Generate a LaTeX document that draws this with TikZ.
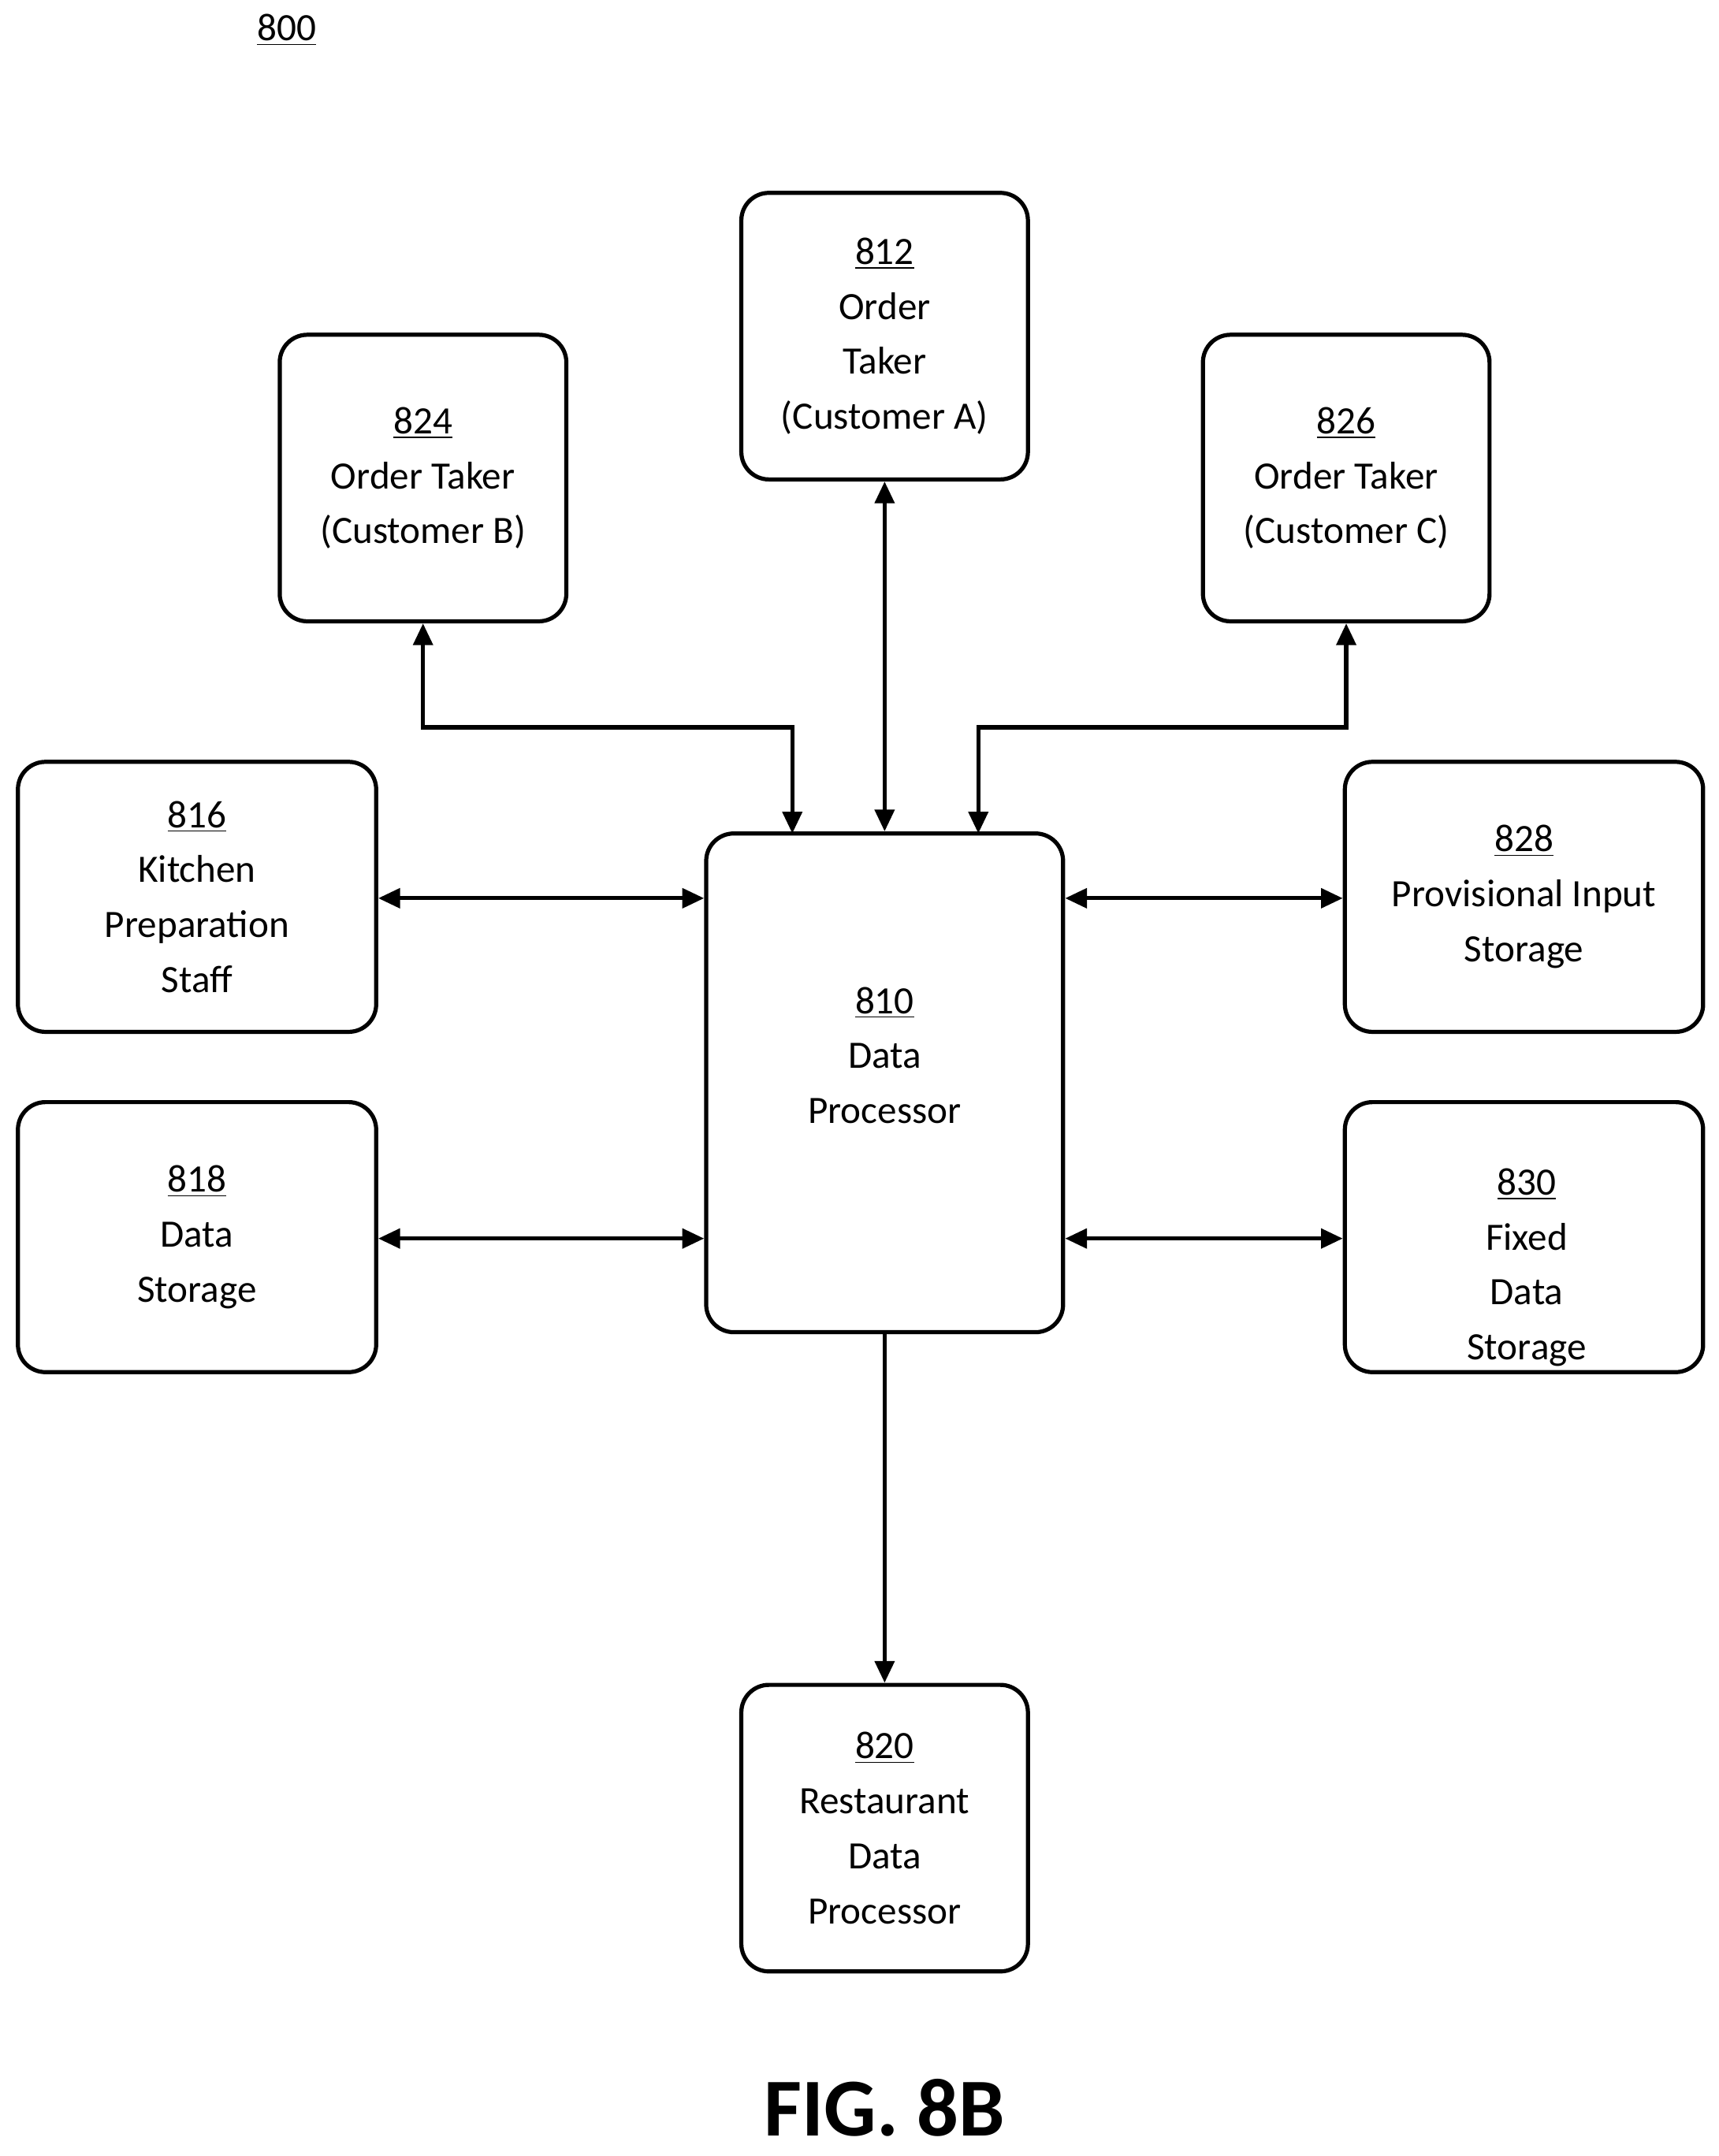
\documentclass[tikz,border=0pt]{standalone}
\usepackage{fontspec}
\setmainfont{Carlito}
\usetikzlibrary{arrows.meta}
\begin{document}
\begin{tikzpicture}[x=0.02cm,y=-0.02cm,
  box/.style={draw,line width=1.7pt,rounded corners=0.4cm,inner sep=0pt,align=center,font=\fontsize{16}{22.7}\selectfont},
  txt/.style={align=center,font=\fontsize{16}{22.7}\selectfont},
  con/.style={line width=1.7pt,{Triangle[length=9pt,width=8pt]}-{Triangle[length=9pt,width=8pt]}},
  one/.style={line width=1.7pt,-{Triangle[length=9pt,width=8pt]}}]
\useasboundingbox (0,0) rectangle (1247,1565);
\node[txt] (n800) at (208,22) {\underline{800}};
\node[box,minimum width=208*0.02cm,minimum height=208*0.02cm] (b812) at (642,244) {\underline{812}\\Order\\Taker\\(Customer A)};
\node[box,minimum width=208*0.02cm,minimum height=208*0.02cm] (b824) at (307,347) {\underline{824}\\Order Taker\\(Customer B)};
\node[box,minimum width=208*0.02cm,minimum height=208*0.02cm] (b826) at (977,347) {\underline{826}\\Order Taker\\(Customer C)};
\node[box,minimum width=260*0.02cm,minimum height=196*0.02cm] (b816) at (143,651) {\underline{816}\\Kitchen\\Preparation\\Staff};
\node[box,minimum width=260*0.02cm,minimum height=196*0.02cm] (b818) at (143,898) {\underline{818}\\Data\\Storage};
\node[box,minimum width=260*0.02cm,minimum height=196*0.02cm] (b828) at (1106,651) {\underline{828}\\Provisional Input\\Storage};
\node[box,minimum width=260*0.02cm,minimum height=196*0.02cm] (b830) at (1106,898) {};
\node[txt] (t830) at (1108,920) {\underline{830}\\Fixed\\Data\\Storage};
\node[box,minimum width=259*0.02cm,minimum height=362*0.02cm] (b810) at (642,786) {};
\node[txt] (t810) at (642,766) {\underline{810}\\Data\\Processor};
\node[box,minimum width=208*0.02cm,minimum height=208*0.02cm] (b820) at (642,1327) {\underline{820}\\Restaurant\\Data\\Processor};
\node[font=\bfseries\fontsize{34}{40}\selectfont] (fig) at (642,1530) {FIG. 8B};
\draw[con] (b812.south) -- (b810.north);
\draw[con] (b824.south) |- (575,528) -- (575,605);
\draw[con] (b826.south) |- (710,528) -- (710,605);
\draw[con] (b816.east |- 0,652) -- (b810.west |- 0,652);
\draw[con] (b818.east |- 0,899) -- (b810.west |- 0,899);
\draw[con] (b810.east |- 0,652) -- (b828.west |- 0,652);
\draw[con] (b810.east |- 0,899) -- (b830.west |- 0,899);
\draw[one] (b810.south) -- (b820.north);
\end{tikzpicture}
\end{document}
